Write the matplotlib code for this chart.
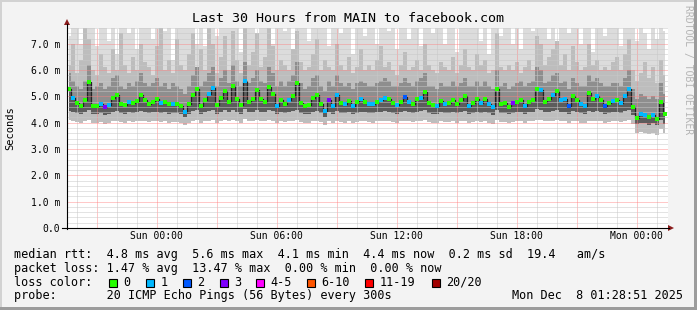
import numpy as np
import matplotlib
matplotlib.use('Agg')
import matplotlib.pyplot as plt
from matplotlib.patches import Rectangle, Polygon
from matplotlib.lines import Line2D
from matplotlib.ticker import MultipleLocator, FuncFormatter

# ---------------- data ----------------
title = "Last 30 Hours from MAIN to facebook.com"
t_start = -4.48          # hours relative to Sun 00:00
t_step = 0.2             # hours per sample

median_ms = [5.30,4.95,4.75,4.65,4.85,5.55,4.65,4.62,4.70,4.60,
             4.68,4.95,5.05,4.72,4.68,4.80,4.75,4.82,5.05,4.85,
             4.72,4.80,4.90,4.75,4.78,4.70,4.70,4.72,4.62,4.42,
             4.70,5.05,5.30,4.65,4.85,5.10,5.32,4.68,4.95,5.20,
             4.80,5.40,4.90,4.68,5.58,4.78,4.90,5.25,4.92,4.80,
             5.35,5.10,4.65,4.85,4.70,4.85,5.00,5.50,4.75,4.62,
             4.68,4.95,5.05,4.72,4.45,4.85,4.65,5.05,4.75,4.70,
             4.82,4.65,4.78,4.92,4.80,4.72,4.70,4.80,4.88,4.95,
             4.92,4.75,4.68,4.80,4.98,4.78,4.72,4.90,4.95,5.18,
             4.75,4.68,4.62,4.82,4.72,4.75,4.85,4.70,4.85,5.00,
             4.65,4.75,4.90,4.75,4.90,4.70,4.58,5.30,4.72,4.75,
             4.60,4.75,4.80,4.85,4.62,4.80,4.85,5.30,5.25,4.78,
             4.90,5.05,5.20,4.85,4.90,4.62,5.02,4.85,4.70,4.65,
             5.12,4.92,5.00,4.85,4.65,4.75,4.82,4.85,4.75,5.00,
             5.30,4.60,4.18,4.35,4.30,4.22,4.30,4.15,4.80,4.35]

loss_cat = [0,1,0,0,0,0,0,0,1,3,
            1,0,0,0,0,1,0,0,0,0,
            0,0,0,1,0,0,1,0,0,1,
            0,0,0,0,0,1,1,0,0,0,
            0,0,0,0,1,0,0,0,0,0,
            0,0,1,0,0,1,0,0,0,0,
            0,0,0,0,1,3,1,1,0,1,
            0,1,0,1,0,1,1,0,1,1,
            0,0,1,0,2,1,0,0,1,0,
            0,0,1,0,1,0,0,0,0,0,
            1,0,0,1,0,1,1,0,0,0,
            0,3,0,0,1,0,0,0,1,0,
            0,1,0,1,1,2,0,0,1,1,
            0,0,1,0,2,0,1,0,1,1,
            1,0,0,1,1,0,1,0,0,0]

ping_min = [4.10,4.05,4.02,4.00,4.05,4.12,4.00,3.98,4.02,3.95,
            4.00,4.05,4.08,4.02,4.00,4.05,4.02,4.05,4.08,4.05,
            4.02,4.05,4.06,4.02,4.05,4.00,4.02,4.03,3.98,3.92,
            4.00,4.08,4.10,4.00,4.05,4.08,4.12,4.00,4.05,4.10,
            4.05,4.12,4.05,4.00,4.15,4.05,4.06,4.10,4.05,4.05,
            4.12,4.08,4.00,4.05,4.02,4.05,4.08,4.12,4.02,3.98,
            4.00,4.05,4.08,4.02,3.92,4.05,4.00,4.08,4.02,4.00,
            4.05,4.00,4.02,4.06,4.05,4.02,4.00,4.05,4.06,4.08,
            4.06,4.02,4.00,4.05,4.08,4.05,4.02,4.06,4.08,4.10,
            4.02,4.00,3.98,4.05,4.02,4.02,4.06,4.00,4.05,4.08,
            4.00,4.02,4.06,4.02,4.06,4.00,3.96,4.12,4.02,4.02,
            3.98,4.02,4.05,4.06,3.98,4.05,4.06,4.12,4.10,4.05,
            4.06,4.08,4.10,4.05,4.06,3.98,4.08,4.05,4.00,4.00,
            4.08,4.06,4.08,4.05,4.00,4.02,4.05,4.05,4.02,4.08,
            4.12,3.95,3.60,3.65,3.62,3.58,3.62,3.55,3.75,3.60]

ping_q1 = [4.45,4.40,4.38,4.35,4.40,4.50,4.35,4.32,4.38,4.30,
           4.35,4.42,4.45,4.38,4.35,4.40,4.38,4.40,4.45,4.40,
           4.38,4.40,4.42,4.38,4.40,4.35,4.36,4.38,4.32,4.20,
           4.35,4.45,4.50,4.35,4.40,4.45,4.50,4.35,4.42,4.48,
           4.40,4.50,4.42,4.35,4.52,4.40,4.42,4.48,4.42,4.40,
           4.50,4.45,4.35,4.40,4.36,4.40,4.45,4.50,4.38,4.32,
           4.35,4.42,4.45,4.38,4.22,4.40,4.35,4.45,4.38,4.36,
           4.40,4.35,4.38,4.42,4.40,4.38,4.36,4.40,4.42,4.44,
           4.42,4.38,4.35,4.40,4.44,4.40,4.38,4.42,4.44,4.48,
           4.38,4.35,4.32,4.40,4.38,4.38,4.42,4.36,4.40,4.45,
           4.35,4.38,4.42,4.38,4.42,4.36,4.30,4.50,4.38,4.38,
           4.32,4.38,4.40,4.42,4.32,4.40,4.42,4.52,4.50,4.40,
           4.42,4.45,4.48,4.40,4.42,4.32,4.45,4.40,4.36,4.35,
           4.45,4.42,4.44,4.40,4.35,4.38,4.40,4.40,4.38,4.45,
           4.50,4.30,3.95,4.00,3.98,3.92,3.98,3.90,4.10,3.95]

ping_q3 = [5.9,5.6,5.4,5.3,5.6,6.2,5.3,5.4,5.5,5.3,
           5.4,5.7,5.8,5.4,5.3,5.5,5.4,5.6,5.9,5.5,
           5.4,5.5,5.7,5.4,5.5,5.3,5.5,5.4,5.3,5.1,
           5.4,5.8,6.1,5.4,5.6,5.9,6.1,5.4,5.7,6.0,
           5.5,6.2,5.6,5.4,6.3,5.5,5.7,6.0,5.6,5.5,
           6.1,5.9,5.4,5.6,5.4,5.6,5.8,6.3,5.5,5.3,
           5.4,5.7,5.8,5.4,5.2,5.6,5.4,5.8,5.5,5.4,
           5.5,5.3,5.5,5.6,5.5,5.4,5.4,5.5,5.6,5.7,
           5.6,5.4,5.4,5.5,5.7,5.5,5.4,5.6,5.7,5.9,
           5.4,5.4,5.3,5.5,5.4,5.4,5.6,5.4,5.5,5.7,
           5.4,5.4,5.6,5.4,5.6,5.4,5.3,6.0,5.4,5.5,
           5.3,5.4,5.5,5.6,5.4,5.5,5.6,6.1,6.0,5.5,
           5.6,5.8,5.9,5.5,5.6,5.3,5.7,5.5,5.4,5.4,
           5.8,5.6,5.7,5.5,5.4,5.4,5.5,5.5,5.4,5.7,
           6.0,5.3,4.9,5.1,5.0,4.9,5.0,4.9,5.5,5.1]

ping_p90 = [6.2,7.0,5.9,6.4,8.0,7.2,6.0,5.8,6.6,6.1,
            5.9,6.8,6.0,7.4,6.2,5.9,6.5,6.0,7.0,6.3,
            6.1,5.8,6.9,7.6,6.0,6.4,5.9,7.2,6.2,6.0,
            6.6,7.4,6.1,6.8,6.0,7.6,7.0,5.9,6.5,7.3,
            6.0,7.5,6.4,5.9,8.0,6.2,6.7,7.4,6.1,6.5,
            7.6,6.9,6.0,6.4,6.2,6.0,6.8,7.5,6.3,6.0,
            6.1,6.6,7.2,6.0,6.4,6.1,6.0,7.0,6.2,6.0,
            6.5,5.9,6.1,6.8,6.0,6.2,6.0,6.4,6.9,6.1,
            6.3,6.0,5.8,6.2,6.7,6.0,6.1,6.4,6.0,7.0,
            6.2,6.0,5.9,6.3,6.1,6.0,6.5,5.9,6.2,6.8,
            6.1,6.0,6.6,6.2,6.4,5.9,6.0,7.4,6.1,6.0,
            6.2,6.0,6.3,5.9,6.1,6.4,6.0,7.3,7.0,6.2,
            6.5,6.8,7.1,6.2,6.6,6.0,6.9,6.3,6.0,6.1,
            7.0,6.2,6.4,6.0,6.1,6.0,6.3,6.5,6.0,6.6,
            7.2,6.0,5.6,5.9,6.3,5.7,6.1,5.5,6.4,5.8]

ping_max = [7.3,8.0,8.0,7.0,8.0,8.0,7.6,6.9,8.0,8.0,
            7.1,8.0,6.6,8.0,8.0,7.4,8.0,6.8,8.0,8.0,
            8.0,7.2,8.0,8.0,7.5,8.0,6.4,8.0,8.0,7.8,
            8.0,8.0,7.0,8.0,6.9,8.0,8.0,7.3,8.0,8.0,
            7.6,8.0,8.0,6.7,8.0,8.0,8.0,7.2,8.0,8.0,
            8.0,7.0,8.0,8.0,7.5,8.0,6.8,8.0,8.0,8.0,
            7.1,8.0,8.0,7.6,8.0,6.9,8.0,8.0,7.4,8.0,
            8.0,6.6,8.0,8.0,7.3,8.0,8.0,7.0,8.0,8.0,
            7.5,8.0,6.8,8.0,8.0,7.2,8.0,8.0,6.9,8.0,
            8.0,7.4,8.0,8.0,7.0,8.0,8.0,6.7,8.0,8.0,
            7.6,8.0,8.0,7.1,8.0,6.6,8.0,8.0,7.3,8.0,
            8.0,7.0,8.0,6.8,8.0,8.0,7.5,8.0,8.0,8.0,
            7.2,8.0,6.9,8.0,8.0,7.4,8.0,8.0,7.0,8.0,
            8.0,6.7,8.0,8.0,7.3,8.0,7.6,8.0,6.9,8.0,
            8.0,8.0,7.1,8.0,7.4,6.8,8.0,7.2,8.0,7.5]

loss_labels = ["0", "1", "2", "3", "4-5", "6-10", "11-19", "20/20"]
loss_colors = ["#26ff00", "#00b8ff", "#0059ff", "#7e00ff",
               "#ff00ff", "#ff5500", "#ff0000", "#a10000"]

xtick_hours = [0, 6, 12, 18, 24]
xtick_labels = ["Sun 00:00", "Sun 06:00", "Sun 12:00", "Sun 18:00", "Mon 00:00"]

legend_line1 = "median rtt:  4.8 ms avg  5.6 ms max  4.1 ms min  4.4 ms now  0.2 ms sd  19.4   am/s"
legend_line2 = "packet loss: 1.47 % avg  13.47 % max  0.00 % min  0.00 % now"
legend_line3 = "loss color:"
legend_line4 = "probe:       20 ICMP Echo Pings (56 Bytes) every 300s"
timestamp = "Mon Dec  8 01:28:51 2025"

# ---------------- figure ----------------
W, H = 697, 310
MONO = "DejaVu Sans Mono"
plt.rcParams['font.family'] = MONO

fig = plt.figure(figsize=(W / 100, H / 100), dpi=100, facecolor="#f3f3f3")


def fx(x):
    return x / W


def fy(y):
    return 1 - y / H


ax = fig.add_axes([fx(67), fy(228), 601 / W, 200 / H])
ax.set_facecolor("white")

n = len(median_ms)
t = t_start + t_step * (np.arange(n) + 0.5)
med = np.array(median_ms)
lo = np.array(ping_min)
q1 = np.array(ping_q1)
q3 = np.array(ping_q3)
p90 = np.array(ping_p90)
hi = np.array(ping_max)

kw = dict(step="mid", linewidth=0, antialiased=False)
ax.fill_between(t, lo, hi, color="#dcdcdc", zorder=1, **kw)
ax.fill_between(t, lo, p90, color="#bdbdbd", zorder=1.1, **kw)
ax.fill_between(t, q1, q3, color="#8e8e8e", zorder=1.2, **kw)
ax.fill_between(t, q1, med, color="#5c5c5c", zorder=1.3, **kw)
ax.step(t, med, where="mid", color="#222222", linewidth=0.9, zorder=1.5)

cats = np.array(loss_cat)
for k in range(len(loss_colors)):
    m = cats == k
    if m.any():
        ax.plot(t[m], med[m], linestyle="none", marker="s", markersize=2.4,
                markeredgewidth=0, color=loss_colors[k], zorder=4)

ax.set_xlim(-4.485, 25.565)
ax.set_ylim(0, 7.6)

ax.xaxis.set_major_locator(MultipleLocator(3))
ax.xaxis.set_minor_locator(MultipleLocator(1))
ax.yaxis.set_major_locator(MultipleLocator(1))
ax.yaxis.set_minor_locator(MultipleLocator(0.2))


def xfmt(v, pos):
    for h, lab in zip(xtick_hours, xtick_labels):
        if abs(v - h) < 1e-6:
            return lab
    return ""


def yfmt(v, pos):
    if abs(v) < 1e-9:
        return "0.0"
    return f"{v:.1f} m"


ax.xaxis.set_major_formatter(FuncFormatter(xfmt))
ax.yaxis.set_major_formatter(FuncFormatter(yfmt))
ax.tick_params(which="both", length=0)
ax.tick_params(axis="x", pad=2.5, labelsize=7)
ax.tick_params(axis="y", pad=5, labelsize=7)

ax.grid(which="minor", color="#c8c8c8", linestyle=(0, (1, 1)), linewidth=0.72, zorder=2)
ax.grid(which="major", color="#ff8080", linestyle=(0, (1, 1)), linewidth=0.72, alpha=0.85, zorder=2.1)
ax.set_axisbelow(False)
for s in ax.spines.values():
    s.set_visible(False)

# axes lines with arrows (pixel coordinates)
fig.add_artist(Line2D([fx(67), fx(67)], [fy(228.5), fy(24)], color="black", linewidth=0.8))
fig.add_artist(Line2D([fx(62), fx(669)], [fy(228), fy(228)], color="black", linewidth=0.8))
fig.add_artist(Polygon([[fx(64), fy(25)], [fx(70), fy(25)], [fx(67), fy(19)]],
                       closed=True, color="#8b1c1c", linewidth=0))
fig.add_artist(Polygon([[fx(668), fy(225)], [fx(668), fy(231)], [fx(674), fy(228)]],
                       closed=True, color="#8b1c1c", linewidth=0))

# title and labels
fig.text(fx(348.5), fy(19), title, ha="center", va="center", fontsize=9.6, color="black")
fig.text(fx(10), fy(128), "Seconds", rotation=90, ha="center", va="center", fontsize=7.5)
fig.text(fx(688), fy(5), "RRDTOOL / TOBI OETIKER", rotation=270, ha="center", va="top",
         fontsize=7.0, color="#b4b4b4")

# legend
LFS = 8.5
x0 = 14.5
fig.text(fx(x0), fy(254.5), legend_line1, ha="left", va="center", fontsize=LFS)
fig.text(fx(x0), fy(268.3), legend_line2, ha="left", va="center", fontsize=LFS)
fig.text(fx(x0), fy(282.3), legend_line3, ha="left", va="center", fontsize=LFS)
fig.text(fx(x0), fy(295.8), legend_line4, ha="left", va="center", fontsize=LFS)
fig.text(fx(683), fy(295.8), timestamp, ha="right", va="center", fontsize=LFS)

sq_x = [108.5, 146, 183, 219.5, 256, 307, 365, 431.5]
for sx, lab, col in zip(sq_x, loss_labels, loss_colors):
    fig.add_artist(Rectangle((fx(sx), fy(286.5)), 8 / W, 8 / H, facecolor=col,
                             edgecolor="black", linewidth=0.8))
    fig.text(fx(sx + 14.5), fy(282.3), lab, ha="left", va="center", fontsize=LFS)

# image frame
fig.add_artist(Rectangle((0, 0), 2 / W, 1, facecolor="#d2d2d2", linewidth=0))
fig.add_artist(Rectangle((0, 1 - 2 / H), 1, 2 / H, facecolor="#d2d2d2", linewidth=0))
fig.add_artist(Rectangle((1 - 3 / W, 0), 3 / W, 1, facecolor="#9c9c9c", linewidth=0))
fig.add_artist(Rectangle((0, 0), 1, 3 / H, facecolor="#9c9c9c", linewidth=0))

fig.savefig("out.png", dpi=100, facecolor=fig.get_facecolor())
